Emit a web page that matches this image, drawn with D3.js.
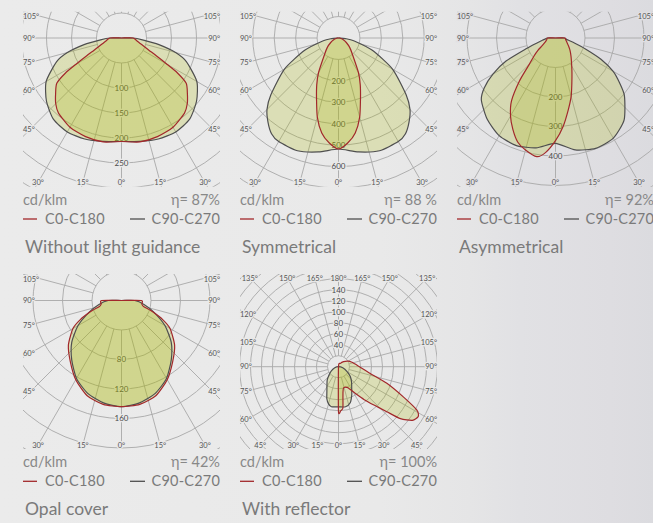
<!DOCTYPE html>
<html>
<head>
<meta charset="utf-8">
<script src="https://cdn.jsdelivr.net/npm/d3@7"></script>
<style>
  body { margin: 0; background: #ebebeb; }
  svg { display: block; }
  text { font-family: Lato, "Open Sans", sans-serif; }
</style>
</head>
<body>
<script>
// ---- chart data (cd/klm against gamma angle, per half plane) ----
var titles = ["Without light guidance", "Symmetrical", "Asymmetrical", "Opal cover", "With reflector"];
var efficiencies = ["η= 87%", "η= 88 %", "η= 92%", "η= 42%", "η= 100%"];
var legendNames = ["C0-C180", "C90-C270"];

// without light guidance
var noGuideC0 = [[0,207],[10,211],[20,210],[30,206],[40,196],[45,186],[50,172],[55,158],[58,132],[60,105],[63,78],[66,60],[70,47],[80,31],[90,23],[180,0]];
var noGuideC180 = noGuideC0;
var noGuideC90 = [[0,207],[10,210],[20,215],[30,217],[40,212],[50,196],[60,174],[70,138],[75,112],[80,76],[85,42],[90,23],[180,0]];
var noGuideC270 = noGuideC90;
var noGuideRings = [50,100,150,200,250,300,350];
var noGuideRingLabels = [100,150,200,250];

// symmetrical
var symC0 = [[0,518],[5,492],[10,450],[15,382],[20,300],[25,240],[30,186],[40,102],[50,68],[60,42],[70,24],[80,12],[90,4],[180,0]];
var symC180 = symC0;
var symC90 = [[0,518],[10,540],[20,560],[30,558],[35,545],[40,512],[45,472],[50,412],[60,292],[70,168],[80,72],[85,32],[90,6],[180,0]];
var symC270 = symC90;
var symRings = [100,200,300,400,500,600,700,800];
var symRingLabels = [200,300,400,500,600];

// asymmetrical
var asymC0 = [[0,348],[5,300],[10,248],[15,205],[20,162],[25,132],[30,110],[40,82],[50,64],[60,50],[70,41],[80,35],[90,32],[180,0]];
var asymC180 = [[0,348],[5,390],[9,407],[15,393],[20,375],[25,342],[30,305],[35,260],[40,190],[45,125],[50,95],[55,72],[60,52],[70,36],[80,30],[90,27],[180,0]];
var asymC90 = [[0,357],[10,385],[20,398],[30,392],[40,362],[50,305],[55,265],[60,225],[65,170],[70,108],[75,68],[80,45],[85,35],[90,30],[180,0]];
var asymC270 = [[0,357],[10,378],[20,388],[30,382],[40,360],[50,328],[55,295],[60,245],[65,185],[70,105],[75,65],[80,45],[85,34],[90,28],[180,0]];
var asymRings = [100,200,300,400,500,600];
var asymRingLabels = [200,300,400];

// opal cover
var opalC0 = [[0,144],[10,143],[20,137],[30,124],[40,108],[50,94],[60,76],[65,62],[70,45],[75,31],[80,28],[90,27],[180,0]];
var opalC180 = opalC0;
var opalC90 = [[0,144],[10,141],[20,134],[30,122],[40,105],[50,88],[60,68],[70,47],[80,31],[90,18],[180,0]];
var opalC270 = opalC90;
var opalRings = [40,80,120,160,200,240];
var opalRingLabels = [80,120,160];

// with reflector
var reflC0 = [[0,82],[3,80],[6,76],[8,58],[10,47],[13,40],[18,39],[24,42],[32,57],[38,76],[43,96],[47,120],[50,147],[54,166],[58,171],[61,163],[65,130],[71,93],[78,59],[90,38],[100,30],[110,25],[120,20],[135,13],[150,7],[180,0]];
var reflC180 = [[0,82],[180,0]];
var reflC90 = [[0,73],[10,74],[18,69],[25,57],[30,48],[40,37],[50,28],[60,18],[75,8],[90,0]];
var reflC270 = [[0,73],[10,74],[15,70],[20,62],[25,50],[30,42],[40,32],[50,22],[60,15],[75,7],[90,0]];
var reflRings = [20,40,60,80,100,120,140,160,180,200,220,240];
var reflRingLabels = [40,60,80,100,120,140];

// ---- layout ----
var W = 653, H = 523;
var panelW = 197, panelH = 175;
var colX = [23, 240, 457];
var rowY = [11.7, 274];

var redColor = "#a2282b", darkColor = "#4f4f4f", gridColor = "#a8a8a8";
var fillColor = "rgb(170,184,0)", fillOpacity = 0.22;

var bgColor = d3.scaleLinear()
    .domain([0, 380, 470, 520, 610, 653])
    .range(["#ebebeb", "#e9e9e9", "#e5e5e6", "#e1e1e4", "#dedde1", "#dbdbdf"]);

var panels = [
  { col: 0, row: 0, cyOff: 26.3, max: 300, rMax: 150, c0: noGuideC0, c180: noGuideC180, c90: noGuideC90, c270: noGuideC270, rings: noGuideRings, ringLabels: noGuideRingLabels, up: false, top: false },
  { col: 1, row: 0, cyOff: 26.3, max: 700, rMax: 150, c0: symC0, c180: symC180, c90: symC90, c270: symC270, rings: symRings, ringLabels: symRingLabels, up: false, top: false },
  { col: 2, row: 0, cyOff: 26.3, max: 500, rMax: 147.5, c0: asymC0, c180: asymC180, c90: asymC90, c270: asymC270, rings: asymRings, ringLabels: asymRingLabels, up: false, top: false },
  { col: 0, row: 1, cyOff: 26.5, max: 200, rMax: 147.5, c0: opalC0, c180: opalC180, c90: opalC90, c270: opalC270, rings: opalRings, ringLabels: opalRingLabels, up: false, top: false },
  { col: 1, row: 1, cyOff: 92.7, max: 260, rMax: 143, c0: reflC0, c180: reflC180, c90: reflC90, c270: reflC270, rings: reflRings, ringLabels: reflRingLabels, up: true, top: true }
];

var svg = d3.select("body").append("svg")
    .attr("width", W)
    .attr("height", H);

var defs = svg.append("defs");
var grad = defs.append("linearGradient")
    .attr("id", "bg")
    .attr("gradientUnits", "userSpaceOnUse")
    .attr("x1", 0).attr("x2", W).attr("y1", 0).attr("y2", 0);
bgColor.domain().forEach(function(x, i) {
    grad.append("stop").attr("offset", x / W).attr("stop-color", bgColor.range()[i]);
});
svg.append("rect").attr("width", W).attr("height", H).attr("fill", "url(#bg)");

// left half (C180 / C270) then right half (C0 / C90) as one closed radial outline
function outline(left, right) {
    var pts = left.slice().sort(function(a, b) { return b[0] - a[0]; })
        .map(function(d) { return { a: Math.PI + d[0] * Math.PI / 180, v: d[1] }; });
    var rp = right.filter(function(d) { return d[0] > 0; })
        .sort(function(a, b) { return a[0] - b[0]; })
        .map(function(d) { return { a: Math.PI - d[0] * Math.PI / 180, v: d[1] }; });
    if (rp.length && pts.length && rp[rp.length - 1].v === 0 && pts[0].v === 0) rp.pop();
    return pts.concat(rp);
}

panels.forEach(function(p, i) {
    var x0 = colX[p.col], y0 = rowY[p.row];
    var x1 = x0 + panelW, y1 = y0 + panelH;
    var cx = (x0 + x1) / 2, cy = y0 + p.cyOff;
    var halo = bgColor(cx);

    var r = d3.scaleLinear().domain([0, p.max]).range([0, p.rMax]);

    defs.append("clipPath").attr("id", "clip" + i)
      .append("rect")
        .attr("x", x0).attr("y", y0)
        .attr("width", panelW).attr("height", panelH);

    var g = svg.append("g").attr("clip-path", "url(#clip" + i + ")");
    var c = g.append("g").attr("transform", "translate(" + cx + "," + cy + ")");

    // rings
    c.selectAll("circle.ring")
        .data(p.rings)
        .enter().append("circle")
        .attr("class", "ring")
        .attr("r", function(d) { return r(d); })
        .attr("fill", "none")
        .attr("stroke", gridColor)
        .attr("stroke-width", 0.9);

    // spokes every 15 degrees, starting at the first ring
    var r0 = r(p.rings[0]);
    c.selectAll("line.spoke")
        .data(d3.range(0, 360, 15))
        .enter().append("line")
        .attr("class", "spoke")
        .attr("x1", function(d) { return r0 * Math.sin(d * Math.PI / 180); })
        .attr("y1", function(d) { return r0 * Math.cos(d * Math.PI / 180); })
        .attr("x2", function(d) { return 400 * Math.sin(d * Math.PI / 180); })
        .attr("y2", function(d) { return 400 * Math.cos(d * Math.PI / 180); })
        .attr("stroke", gridColor)
        .attr("stroke-width", 0.9);

    // ring value labels
    c.selectAll("text.rlab")
        .data(p.ringLabels)
        .enter().append("text")
        .attr("class", "rlab")
        .attr("x", 0)
        .attr("y", function(d) { return p.up ? -r(d) : r(d); })
        .attr("dy", "0.35em")
        .attr("text-anchor", "middle")
        .attr("font-size", 8)
        .attr("fill", "#4a4a4a")
        .attr("stroke", halo)
        .attr("stroke-width", 2.5)
        .attr("paint-order", "stroke")
        .text(function(d) { return d; });

    var line = d3.lineRadial()
        .angle(function(d) { return d.a; })
        .radius(function(d) { return r(d.v); })
        .curve(d3.curveCardinalClosed.tension(0.35));

    var dark = outline(p.c270, p.c90);
    var red = outline(p.c180, p.c0);

    c.append("path").attr("d", line(dark))
        .attr("fill", fillColor).attr("fill-opacity", fillOpacity).attr("stroke", "none");
    c.append("path").attr("d", line(red))
        .attr("fill", fillColor).attr("fill-opacity", fillOpacity).attr("stroke", "none");
    c.append("path").attr("d", line(dark))
        .attr("fill", "none").attr("stroke", darkColor).attr("stroke-width", 1.2)
        .attr("stroke-linejoin", "round");
    c.append("path").attr("d", line(red))
        .attr("fill", "none").attr("stroke", redColor).attr("stroke-width", 1.2)
        .attr("stroke-linejoin", "round");

    // angle labels where spokes leave the frame
    var bx0 = x0 + 7.5, bx1 = x1 - 7.5, by0 = y0 + 4, by1 = y1 - 4;
    var angLabels = [];
    [-1, 1].forEach(function(side) {
        d3.range(0, 181, 15).forEach(function(gm) {
            if (side === -1 && (gm === 0 || gm === 180)) return;
            var dx = side * Math.sin(gm * Math.PI / 180), dy = Math.cos(gm * Math.PI / 180);
            var tx = Math.abs(dx) > 1e-6 ? (dx < 0 ? (bx0 - cx) / dx : (bx1 - cx) / dx) : Infinity;
            var ty = Math.abs(dy) > 1e-6 ? (dy > 0 ? (by1 - cy) / dy : (by0 - cy) / dy) : Infinity;
            if (!p.top) {
                if (gm > 105) return;
                if (dy < 0) ty = Infinity;
            }
            if (ty < tx) {
                angLabels.push({ t: gm + "°", x: Math.max(x0 + 8, Math.min(x1 - 8, cx + ty * dx)),
                                 y: cy + ty * dy, anchor: "middle" });
            } else {
                angLabels.push({ t: gm + "°", x: side < 0 ? x0 : x1,
                                 y: Math.max(y0 + 5, cy + tx * dy), anchor: side < 0 ? "start" : "end" });
            }
        });
    });
    svg.append("g").selectAll("text")
        .data(angLabels)
        .enter().append("text")
        .attr("x", function(d) { return d.x; })
        .attr("y", function(d) { return d.y; })
        .attr("dy", "0.35em")
        .attr("text-anchor", function(d) { return d.anchor; })
        .attr("font-size", 7.5)
        .attr("fill", "#555")
        .attr("stroke", halo)
        .attr("stroke-width", 2.5)
        .attr("paint-order", "stroke")
        .text(function(d) { return d.t; });

    // unit, efficiency, legend, title
    var tg = svg.append("g");
    tg.append("text").attr("x", x0).attr("y", y0 + 188.3).attr("dy", "0.35em")
        .attr("font-size", 14.5).attr("fill", "#888").text("cd/klm");
    tg.append("text").attr("x", x1).attr("y", y0 + 188.3).attr("dy", "0.35em")
        .attr("text-anchor", "end").attr("font-size", 14.5).attr("fill", "#888")
        .text(efficiencies[i]);

    var ly = y0 + 207.3;
    tg.append("line").attr("x1", x0).attr("x2", x0 + 14).attr("y1", ly).attr("y2", ly)
        .attr("stroke", redColor).attr("stroke-width", 1.3);
    tg.append("text").attr("x", x0 + 22).attr("y", ly).attr("dy", "0.35em")
        .attr("font-size", 14.5).attr("fill", "#7a7a7a").attr("letter-spacing", 0.2)
        .text(legendNames[0]);
    tg.append("line").attr("x1", x0 + 107).attr("x2", x0 + 122).attr("y1", ly).attr("y2", ly)
        .attr("stroke", darkColor).attr("stroke-width", 1.3);
    tg.append("text").attr("x", x1).attr("y", ly).attr("dy", "0.35em")
        .attr("text-anchor", "end")
        .attr("font-size", 14.5).attr("fill", "#7a7a7a").attr("letter-spacing", 0.2)
        .text(legendNames[1]);

    tg.append("text").attr("x", x0 + 2).attr("y", y0 + 235.3).attr("dy", "0.35em")
        .attr("font-size", 17.5).attr("fill", "#7a7a7a")
        .text(titles[i]);
});
</script>
</body>
</html>
